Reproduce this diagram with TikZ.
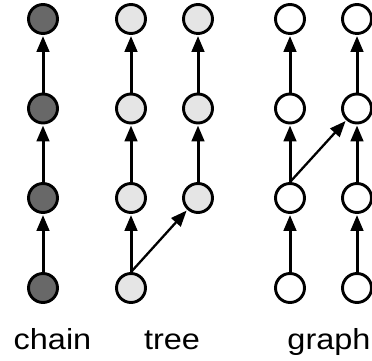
\documentclass[tikz,border=0pt]{standalone}
\usepackage{fontspec}
\setmainfont[FakeStretch=1.12]{Liberation Sans}
\usetikzlibrary{arrows.meta}
\definecolor{chainfill}{RGB}{104,104,104}
\definecolor{treefill}{RGB}{229,229,229}
\tikzset{
  vert/.style={circle,draw,line width=2.9pt,minimum size=29pt,inner sep=0pt},
  link/.style={-{Triangle[length=16pt,width=12.5pt]},line width=3pt,shorten >=1pt},
  cross/.style={link,line width=2.3pt},
  caption/.style={anchor=base,font=\fontsize{29}{31}\selectfont},
}
\begin{document}
\begin{tikzpicture}
    \useasboundingbox (0,0) rectangle (372pt,361pt);
    % chain
    \node[vert,fill=chainfill] (c1) at (43pt,342pt) {};
    \node[vert,fill=chainfill] (c2) at (43pt,252.5pt) {};
    \node[vert,fill=chainfill] (c3) at (43pt,163pt) {};
    \node[vert,fill=chainfill] (c4) at (43pt,73pt) {};
    % tree
    \node[vert,fill=treefill] (t1) at (131pt,342pt) {};
    \node[vert,fill=treefill] (t2) at (131pt,252.5pt) {};
    \node[vert,fill=treefill] (t3) at (131pt,163pt) {};
    \node[vert,fill=treefill] (t4) at (131pt,73pt) {};
    \node[vert,fill=treefill] (u1) at (198pt,342pt) {};
    \node[vert,fill=treefill] (u2) at (198pt,252.5pt) {};
    \node[vert,fill=treefill] (u3) at (198pt,163pt) {};
    % graph
    \node[vert,fill=white] (g1) at (290pt,342pt) {};
    \node[vert,fill=white] (g2) at (290pt,252.5pt) {};
    \node[vert,fill=white] (g3) at (290pt,163pt) {};
    \node[vert,fill=white] (g4) at (290pt,73pt) {};
    \node[vert,fill=white] (h1) at (357pt,342pt) {};
    \node[vert,fill=white] (h2) at (357pt,252.5pt) {};
    \node[vert,fill=white] (h3) at (357pt,163pt) {};
    \node[vert,fill=white] (h4) at (357pt,73pt) {};
    \draw[link] (c4) -- (c3);
    \draw[link] (c3) -- (c2);
    \draw[link] (c2) -- (c1);
    \draw[link] (t4) -- (t3);
    \draw[link] (t3) -- (t2);
    \draw[link] (t2) -- (t1);
    \draw[link] (u3) -- (u2);
    \draw[link] (u2) -- (u1);
    \draw[cross] (t4.north) -- (u3);
    \draw[link] (g4) -- (g3);
    \draw[link] (g3) -- (g2);
    \draw[link] (g2) -- (g1);
    \draw[link] (h4) -- (h3);
    \draw[link] (h3) -- (h2);
    \draw[link] (h2) -- (h1);
    \draw[cross] (g3.north) -- (h2);
    \node[caption] (chain) at (52.5pt,11pt) {chain};
    \node[caption] (tree) at (172pt,11pt) {tree};
    \node[caption] (graph) at (329pt,11pt) {graph};
\end{tikzpicture}
\end{document}
